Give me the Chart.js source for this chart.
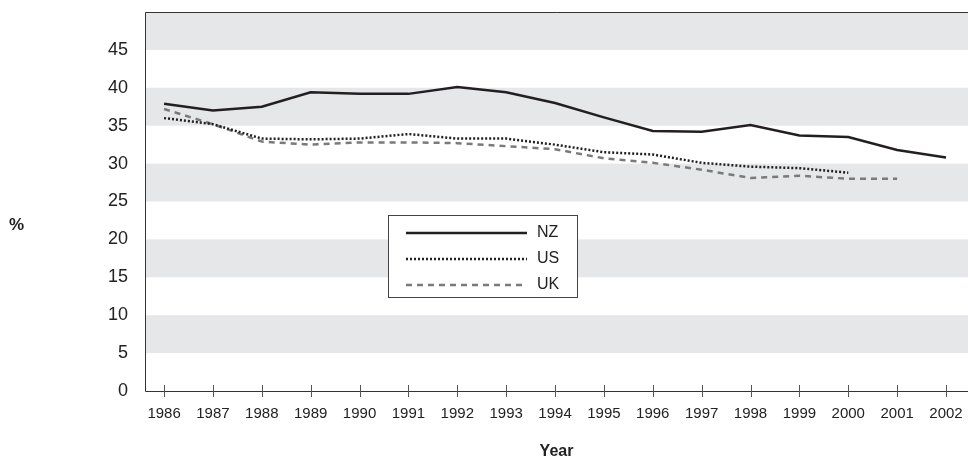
<!DOCTYPE html>
<html>
<head>
<meta charset="utf-8">
<script src="https://cdn.jsdelivr.net/npm/chart.js@4"></script>
<style>
  html, body { margin: 0; padding: 0; background: #fff; }
  #wrap { width: 968px; height: 459px; }
</style>
</head>
<body>
<div id="wrap"><canvas id="chart" width="968" height="459"></canvas></div>
<script>
var years = [1986, 1987, 1988, 1989, 1990, 1991, 1992, 1993, 1994, 1995, 1996, 1997, 1998, 1999, 2000, 2001, 2002];
var nzData = [37.9, 37.0, 37.5, 39.4, 39.2, 39.2, 40.1, 39.4, 38.0, 36.1, 34.3, 34.2, 35.1, 33.7, 33.5, 31.8, 30.8];
var usData = [36.0, 35.2, 33.3, 33.2, 33.3, 33.9, 33.3, 33.3, 32.5, 31.5, 31.2, 30.1, 29.6, 29.4, 28.8, null, null];
var ukData = [37.2, 35.2, 32.9, 32.5, 32.8, 32.8, 32.7, 32.3, 31.9, 30.7, 30.1, 29.2, 28.1, 28.4, 28.0, 28.0, null];
var yTicks = [0, 5, 10, 15, 20, 25, 30, 35, 40, 45];

function pts(arr) {
  return years.map(function (y, i) { return { x: y, y: arr[i] }; });
}

var fontFam = '"Liberation Sans", Arial, sans-serif';

// grey bands behind the plot
var bands = {
  id: 'bands',
  beforeDraw: function (chart) {
    var ctx = chart.ctx, ca = chart.chartArea, ys = chart.scales.y;
    ctx.save();
    ctx.fillStyle = '#e6e7e8';
    for (var v = 5; v < 50; v += 10) {
      var t = ys.getPixelForValue(v + 5), b = ys.getPixelForValue(v);
      ctx.fillRect(ca.left, t, ca.right - ca.left, b - t);
    }
    ctx.restore();
  }
};

// frame, crossing tick marks, "%" label and the boxed legend
var extras = {
  id: 'extras',
  afterDraw: function (chart) {
    var ctx = chart.ctx, ca = chart.chartArea, xs = chart.scales.x;
    ctx.save();
    ctx.strokeStyle = '#333';
    ctx.lineWidth = 1;
    ctx.beginPath();
    ctx.moveTo(ca.right, ca.top + 0.5);
    ctx.lineTo(ca.left + 0.5, ca.top + 0.5);
    ctx.lineTo(ca.left + 0.5, ca.bottom + 0.5);
    ctx.lineTo(ca.right, ca.bottom + 0.5);
    ctx.stroke();
    ctx.strokeStyle = '#555';
    years.forEach(function (yr) {
      var x = Math.round(xs.getPixelForValue(yr)) + 0.5;
      ctx.beginPath();
      ctx.moveTo(x, ca.bottom - 6);
      ctx.lineTo(x, ca.bottom + 6);
      ctx.stroke();
    });

    ctx.fillStyle = '#222';
    ctx.font = 'bold 17px ' + fontFam;
    ctx.textAlign = 'left';
    ctx.textBaseline = 'middle';
    ctx.fillText('%', 9, 225);

    // legend box
    var lx = ca.left + 243, ly = ca.top + 203, lw = 189, lh = 82;
    ctx.fillStyle = '#fff';
    ctx.fillRect(lx, ly, lw, lh);
    ctx.strokeStyle = '#444';
    ctx.strokeRect(lx + 0.5, ly + 0.5, lw, lh);
    chart.data.datasets.forEach(function (ds, i) {
      var yy = ly + 18 + i * 26;
      ctx.save();
      ctx.strokeStyle = ds.borderColor;
      ctx.lineWidth = ds.borderWidth;
      ctx.setLineDash(ds.borderDash || []);
      ctx.beginPath();
      ctx.moveTo(lx + 18, yy);
      ctx.lineTo(lx + 139, yy);
      ctx.stroke();
      ctx.restore();
      ctx.fillStyle = '#222';
      ctx.font = '16px ' + fontFam;
      ctx.fillText(ds.label, lx + 149, yy);
    });
    ctx.restore();
  }
};

new Chart(document.getElementById('chart').getContext('2d'), {
  type: 'line',
  data: {
    datasets: [
      { label: 'NZ', data: pts(nzData), borderColor: '#231f20', borderWidth: 2.5, pointRadius: 0, tension: 0 },
      { label: 'US', data: pts(usData), borderColor: '#231f20', borderWidth: 2.5, borderDash: [2, 2], pointRadius: 0, tension: 0 },
      { label: 'UK', data: pts(ukData), borderColor: '#7a7a7a', borderWidth: 2.5, borderDash: [6, 5], pointRadius: 0, tension: 0 }
    ]
  },
  options: {
    responsive: false,
    animation: false,
    spanGaps: false,
    layout: { padding: { top: 12, right: 0, left: 0, bottom: 0 } },
    plugins: { legend: { display: false }, tooltip: { enabled: false } },
    scales: {
      x: {
        type: 'linear',
        min: 1985.61,
        max: 2002.45,
        afterBuildTicks: function (s) { s.ticks = years.map(function (v) { return { value: v }; }); },
        afterFit: function (s) { s.height = 68; s.paddingLeft = 0; s.paddingRight = 0; },
        grid: { display: false, drawTicks: false },
        border: { display: false },
        ticks: { autoSkip: false, maxRotation: 0, padding: 14, color: '#222', font: { family: fontFam, size: 15 },
                 callback: function (v) { return String(v); } },
        title: { display: true, text: 'Year', color: '#222', font: { family: fontFam, size: 16, weight: 'bold' }, padding: { top: 16, bottom: -2 } }
      },
      y: {
        min: 0,
        max: 50,
        afterBuildTicks: function (s) { s.ticks = yTicks.map(function (v) { return { value: v }; }); },
        afterFit: function (s) { s.width = 145; s.paddingTop = 0; s.paddingBottom = 0; },
        grid: { display: false, drawTicks: false },
        border: { display: false },
        ticks: { padding: 17, color: '#222', font: { family: fontFam, size: 18 } }
      }
    }
  },
  plugins: [bands, extras]
});
</script>
</body>
</html>
